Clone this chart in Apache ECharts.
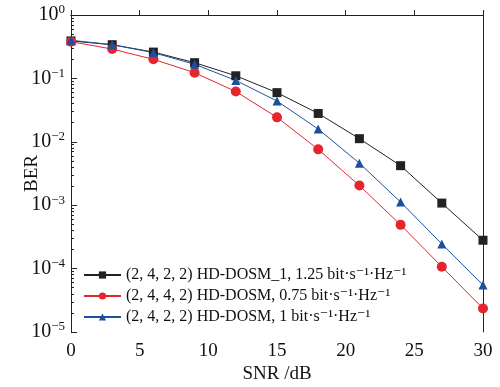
<!DOCTYPE html>
<html><head><meta charset="utf-8">
<script src="https://cdn.jsdelivr.net/npm/echarts@6/dist/echarts.min.js"></script>
<style>html,body{margin:0;padding:0;background:#fff}#c{width:500px;height:387px}</style>
</head><body><div id="c"></div>
<script>
const snr = [0, 3, 6, 9, 12, 15, 18, 21, 24, 27, 30];
const names = [
  '(2, 4, 2, 2) HD-DOSM_1, 1.25 bit\u00b7s\u207b\u00b9\u00b7Hz\u207b\u00b9',
  '(2, 4, 4, 2) HD-DOSM, 0.75 bit\u00b7s\u207b\u00b9\u00b7Hz\u207b\u00b9',
  '(2, 4, 2, 2) HD-DOSM, 1 bit\u00b7s\u207b\u00b9\u00b7Hz\u207b\u00b9'
];
const berBlack = [0.39, 0.34, 0.26, 0.177, 0.11, 0.0596, 0.028, 0.0112, 0.0042, 0.00108, 0.00028];
const berRed   = [0.38, 0.29, 0.20, 0.123, 0.062, 0.0243, 0.0076, 0.00204, 0.00049, 0.000107, 0.0000235];
const berBlue  = [0.40, 0.34, 0.255, 0.167, 0.093, 0.044, 0.0159, 0.0046, 0.00112, 0.000245, 0.000055];
const colors = ['#222222', '#e3262d', '#1d4f9e'];
const symbols = ['rect', 'circle', 'triangle'];
const serif = '"Liberation Serif", "DejaVu Serif", serif';

// minor tick positions (log10 of 2..9 x 10^e) for a helper linear axis spanning -5..0
const minorVals = [];
for (let e = -5; e < 0; e++) for (let m = 2; m <= 9; m++) minorVals.push(e + Math.log10(m));

function pairs(v){ return snr.map((x,i)=>[x, v[i]]); }
const seriesData = [berBlack, berRed, berBlue];

const chart = echarts.init(document.getElementById('c'), null, {renderer:'canvas'});
chart.setOption({
  animation: false,
  grid: {left: 71, right: 17, top: 15, bottom: 55, containLabel: false, outerBoundsMode: 'none'},
  legend: {
    orient: 'vertical', left: 78, top: 262, itemGap: 5,
    itemWidth: 37, itemHeight: 9,
    data: names,
    textStyle: {fontFamily: serif, fontSize: 16, color: '#111'}
  },
  xAxis: [{
    type: 'value', min: 0, max: 30, interval: 5,
    name: 'SNR /dB', nameLocation: 'middle', nameGap: 33, nameMoveOverlap: false,
    nameTextStyle: {fontFamily: serif, fontSize: 19, color: '#111'},
    axisLine: {lineStyle: {color: '#222', width: 1}},
    axisTick: {inside: true, length: 5, lineStyle: {color: '#222'}},
    axisLabel: {fontFamily: serif, fontSize: 19, color: '#111', margin: 10},
    splitLine: {show: false}
  }, {
    type: 'value', min: 0, max: 30, position: 'top',
    axisLine: {show: true, onZero: false, lineStyle: {color: '#222', width: 1}},
    axisTick: {show: false}, axisLabel: {show: false}, splitLine: {show: false}
  }],
  yAxis: [{
    type: 'log', logBase: 10, min: 1e-5, max: 1,
    name: 'BER', nameLocation: 'middle', nameGap: 29, nameRotate: 90, nameMoveOverlap: false,
    nameTextStyle: {fontFamily: serif, fontSize: 19, color: '#111'},
    axisLine: {lineStyle: {color: '#222', width: 1}},
    axisTick: {inside: true, length: 6, lineStyle: {color: '#222'}},
    axisLabel: {
      margin: 6,
      formatter: function(v){
        const e = Math.round(Math.log10(v));
        return '{b|10}{s|' + (e < 0 ? '\u2212' + (-e) : e) + '}';
      },
      rich: {
        b: {fontFamily: serif, fontSize: 20, color: '#111'},
        s: {fontFamily: serif, fontSize: 13, color: '#111', verticalAlign: 'top', padding: [0,0,10,0]}
      }
    },
    splitLine: {show: false}
  }, {
    type: 'value', min: -5, max: 0, position: 'left',
    axisLine: {show: false, onZero: false},
    axisTick: {show: true, inside: true, length: 3, customValues: minorVals, lineStyle: {color: '#222'}},
    axisLabel: {show: false}, splitLine: {show: false}
  }, {
    type: 'log', logBase: 10, min: 1e-5, max: 1, position: 'right',
    axisLine: {show: true, onZero: false, lineStyle: {color: '#222', width: 1}},
    axisTick: {show: false}, axisLabel: {show: false}, splitLine: {show: false}
  }],
  series: seriesData.map((d, i) => ({
    name: names[i], type: 'line', data: pairs(d),
    symbol: symbols[i], symbolSize: i === 1 ? 10 : 9,
    showAllSymbol: true,
    lineStyle: {color: colors[i], width: 1},
    itemStyle: {color: colors[i]}
  }))
});
</script>
</body></html>
